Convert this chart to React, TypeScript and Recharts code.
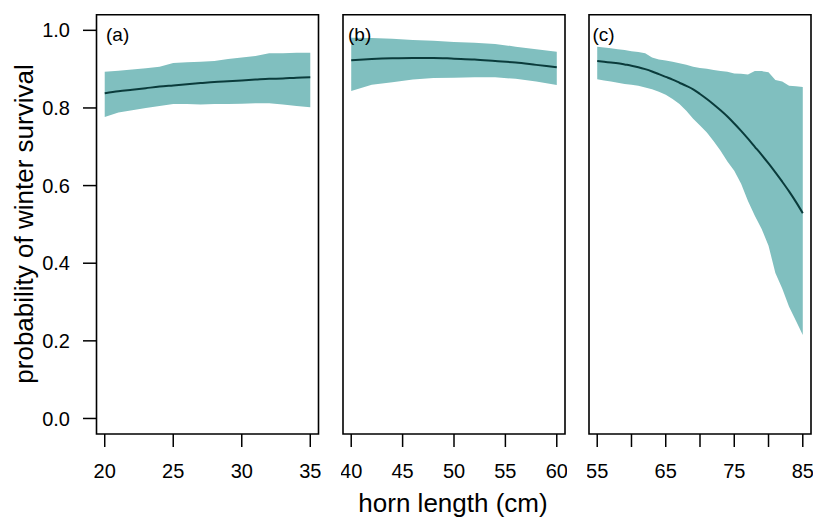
import { ComposedChart, Area, Line, XAxis, YAxis, ReferenceArea } from 'recharts'

const FONT = '"Liberation Sans", Arial, Helvetica, sans-serif'
const BAND = '#80bfbf'
const FIT = '#0a3b3b'

// (a) horn lengths 20-35 cm
const hornA = [20, 21, 22, 23, 24, 25, 26, 27, 28, 29, 30, 31, 32, 33, 34, 35]
const fitA = [0.838, 0.843, 0.847, 0.851, 0.855, 0.858, 0.861, 0.864, 0.867, 0.869, 0.871, 0.873, 0.875, 0.876, 0.878, 0.879]
const loA = [0.777, 0.788, 0.794, 0.8, 0.805, 0.81, 0.81, 0.809, 0.81, 0.81, 0.811, 0.812, 0.812, 0.809, 0.805, 0.802]
const hiA = [0.893, 0.896, 0.899, 0.902, 0.906, 0.916, 0.918, 0.919, 0.921, 0.926, 0.93, 0.934, 0.941, 0.941, 0.942, 0.942]

// (b) horn lengths 40-60 cm
const hornB = [40, 42, 44, 46, 48, 50, 52, 54, 56, 58, 60]
const fitB = [0.923, 0.926, 0.928, 0.929, 0.929, 0.927, 0.925, 0.921, 0.917, 0.911, 0.905]
const loB = [0.844, 0.86, 0.866, 0.873, 0.877, 0.878, 0.879, 0.879, 0.875, 0.868, 0.859]
const hiB = [0.981, 0.98, 0.978, 0.975, 0.973, 0.97, 0.968, 0.965, 0.958, 0.951, 0.945]

// (c) horn lengths 55-85 cm
const hornC = [55, 56, 57, 58, 59, 60, 61, 62, 63, 64, 65, 66, 67, 68, 69, 70, 71, 72, 73, 74, 75, 76, 77, 78, 79, 80, 81, 82, 83, 84, 85]
const fitC = [0.921, 0.919, 0.917, 0.915, 0.912, 0.909, 0.905, 0.9, 0.894, 0.887, 0.88, 0.873, 0.865, 0.857, 0.848, 0.836, 0.823, 0.809, 0.794, 0.778, 0.76, 0.741, 0.721, 0.7, 0.679, 0.657, 0.634, 0.61, 0.585, 0.558, 0.529]
const loC = [0.874, 0.871, 0.868, 0.865, 0.862, 0.86, 0.857, 0.853, 0.848, 0.842, 0.834, 0.823, 0.81, 0.793, 0.772, 0.755, 0.737, 0.714, 0.69, 0.662, 0.638, 0.605, 0.56, 0.522, 0.488, 0.445, 0.375, 0.335, 0.288, 0.252, 0.215]
const hiC = [0.958, 0.956, 0.954, 0.951, 0.949, 0.946, 0.944, 0.941, 0.93, 0.925, 0.922, 0.919, 0.915, 0.911, 0.906, 0.903, 0.901, 0.898, 0.895, 0.893, 0.889, 0.888, 0.886, 0.895, 0.895, 0.892, 0.872, 0.868, 0.857, 0.856, 0.854]

const ticksY = [0, 0.2, 0.4, 0.6, 0.8, 1.0]
const ticksA = [20, 25, 30, 35]
const ticksB = [40, 45, 50, 55, 60]
const ticksC = [55, 60, 65, 70, 75, 80, 85]
const labelsC = [55, 65, 75, 85]

const Y_DOMAIN: [number, number] = [-0.04, 1.04]
const H = 519

function rows(x: number[], fit: number[], lo: number[], hi: number[]) {
  return x.map((v, i) => ({ x: v, fit: fit[i], band: [lo[i], hi[i]] }))
}

function HornTick(props: any) {
  const { x, y, payload, labelled } = props
  const show = !labelled || labelled.includes(payload.value)
  return (
    <g>
      <line x1={x} x2={x} y1={y} y2={y + 13} stroke="#000" strokeWidth={1.5} />
      {show && (
        <text x={x} y={y + 44} textAnchor="middle" fontSize={20} fontFamily={FONT} fill="#000">
          {payload.value}
        </text>
      )}
    </g>
  )
}

interface PanelProps {
  data: { x: number; fit: number; band: number[] }[]
  domain: [number, number]
  ticks: number[]
  labelled?: number[]
  plotLeft: number
  showY?: boolean
}

const PLOT_W = 222
const Y_AXIS_W = 96.5

function Panel({ data, domain, ticks, labelled, plotLeft, showY }: PanelProps) {
  const left = showY ? 0 : plotLeft - 2
  const width = showY ? Y_AXIS_W + PLOT_W + 2 : PLOT_W + 4
  return (
    <div style={{ position: 'absolute', left, top: 0 }}>
      <ComposedChart
        width={width}
        height={H}
        data={data}
        margin={{ top: 14.8, right: 2, bottom: 0, left: showY ? 0 : 2 }}
      >
        <XAxis
          dataKey="x"
          type="number"
          domain={domain}
          allowDataOverflow
          ticks={ticks}
          interval={0}
          axisLine={false}
          tickLine={false}
          tickSize={0}
          tickMargin={0}
          height={85}
          tick={(p: any) => <HornTick {...p} labelled={labelled} />}
        />
        <YAxis
          type="number"
          domain={Y_DOMAIN}
          allowDataOverflow
          ticks={ticksY}
          interval={0}
          hide={!showY}
          width={Y_AXIS_W}
          axisLine={false}
          tickLine={{ stroke: '#000', strokeWidth: 1.5 }}
          tickSize={13.5}
          tickMargin={13}
          tickFormatter={(v: number) => v.toFixed(1)}
          tick={{ fontSize: 20, fill: '#000', fontFamily: FONT }}
        />
        <Area
          dataKey="band"
          type="linear"
          stroke="none"
          fill={BAND}
          fillOpacity={1}
          dot={false}
          activeDot={false}
          isAnimationActive={false}
        />
        <Line
          dataKey="fit"
          type="monotone"
          stroke={FIT}
          strokeWidth={2}
          dot={false}
          activeDot={false}
          isAnimationActive={false}
        />
        <ReferenceArea
          x1={domain[0]}
          x2={domain[1]}
          y1={Y_DOMAIN[0]}
          y2={Y_DOMAIN[1]}
          fill="none"
          stroke="#000"
          strokeWidth={1.6}
          ifOverflow="visible"
        />
      </ComposedChart>
    </div>
  )
}

export default function App() {
  return (
    <div
      style={{
        position: 'absolute',
        left: 0,
        top: 0,
        width: 815,
        height: H,
        background: '#fff',
        overflow: 'hidden',
      }}
    >
      <Panel data={rows(hornA, fitA, loA, hiA)} domain={[19.4, 35.6]} ticks={ticksA} plotLeft={96.5} showY />
      <Panel data={rows(hornB, fitB, loB, hiB)} domain={[39.2, 60.8]} ticks={ticksB} plotLeft={342.5} />
      <Panel data={rows(hornC, fitC, loC, hiC)} domain={[53.8, 86.2]} ticks={ticksC} labelled={labelsC} plotLeft={589} />
      <svg
        width={815}
        height={H}
        style={{ position: 'absolute', left: 0, top: 0, pointerEvents: 'none' }}
        fontFamily={FONT}
      >
        <text x={106} y={41} fontSize={19}>(a)</text>
        <text x={348} y={41} fontSize={19}>(b)</text>
        <text x={592.5} y={41} fontSize={19}>(c)</text>
        <text x={453} y={512} fontSize={26} textAnchor="middle">horn length (cm)</text>
        <text x={33} y={224} fontSize={26} textAnchor="middle" transform="rotate(-90 33 224)">
          probability of winter survival
        </text>
      </svg>
    </div>
  )
}
